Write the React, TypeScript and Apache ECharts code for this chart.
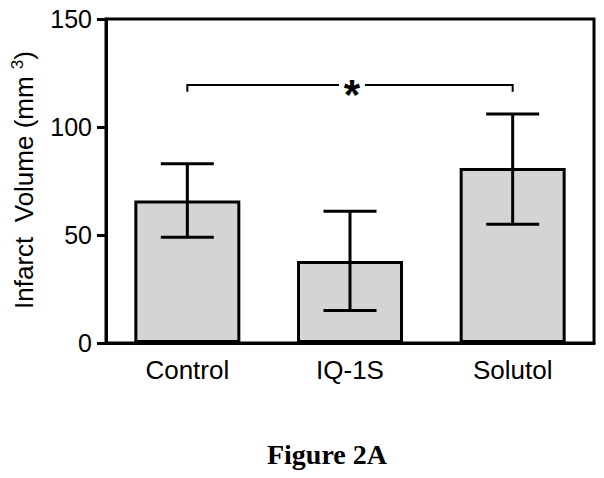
import React, { useEffect, useRef } from "react";
import * as echarts from "echarts";

const categories = ["Control", "IQ-1S", "Solutol"];
const meanValues = [66, 38, 81];
const errLow = [49, 15, 55];
const errHigh = [83, 61, 106];
const yMin = 0;
const yMax = 150;
const yStep = 50;
// significance bracket: from category index, to category index, level, foot
const bracketSpan = [0, 2];
const bracketLevel = 119.5;
const bracketFoot = 116.3;
const bracketMark = "*";

const FONT = "'Liberation Sans', Arial, sans-serif";

export default function App() {
  const ref = useRef<HTMLDivElement>(null);
  useEffect(() => {
    document.body.style.margin = "0";
    if (!ref.current) return;
    const chart = echarts.init(ref.current, null, { renderer: "svg" });
    const option: any = {
      animation: false,
      backgroundColor: "#fff",
      grid: {
        left: 106,
        right: 10,
        top: 19,
        bottom: 135,
        show: true,
        borderColor: "#000",
        borderWidth: 3,
      },
      xAxis: {
        type: "category",
        data: categories,
        axisLine: { lineStyle: { color: "#000", width: 3 } },
        axisTick: { show: false },
        axisLabel: { fontSize: 26, color: "#000", fontFamily: FONT, margin: 14 },
      },
      yAxis: {
        type: "value",
        min: yMin,
        max: yMax,
        interval: yStep,
        axisLine: { show: true, lineStyle: { color: "#000", width: 3 } },
        axisTick: { show: true, length: 9, lineStyle: { color: "#000", width: 3 } },
        axisLabel: { fontSize: 25, color: "#000", fontFamily: FONT, margin: 14 },
        splitLine: { show: false },
      },
      graphic: [
        {
          type: "text",
          x: 24,
          y: 180,
          rotation: Math.PI / 2,
          style: {
            text: "{a|Infarct  Volume (mm }{s|3}{a|)}",
            align: "center",
            verticalAlign: "middle",
            rich: {
              a: { fontSize: 26, fontFamily: FONT, fill: "#000", lineHeight: 30 },
              s: { fontSize: 17, fontFamily: FONT, fill: "#000", verticalAlign: "top" },
            },
          },
        },
        {
          type: "text",
          x: 327,
          y: 454,
          style: {
            text: "Figure 2A",
            font: "bold 28px 'Liberation Serif', 'Times New Roman', serif",
            fill: "#000",
            align: "center",
            verticalAlign: "middle",
          },
        },
      ],
      series: [
        {
          type: "bar",
          data: meanValues,
          barWidth: 106,
          itemStyle: { color: "#d4d4d4", borderColor: "#000", borderWidth: 3 },
          z: 2,
        },
        {
          type: "custom",
          z: 3,
          data: categories.map((_, i) => [i, errLow[i], errHigh[i]]),
          renderItem: (params: any, api: any) => {
            const lo = api.coord([api.value(0), api.value(1)]);
            const hi = api.coord([api.value(0), api.value(2)]);
            const hw = 26.5;
            const st = { stroke: "#000", lineWidth: 3, fill: "none" };
            return {
              type: "group",
              children: [
                { type: "line", shape: { x1: lo[0], y1: lo[1], x2: hi[0], y2: hi[1] }, style: st },
                { type: "line", shape: { x1: hi[0] - hw, y1: hi[1], x2: hi[0] + hw, y2: hi[1] }, style: st },
                { type: "line", shape: { x1: lo[0] - hw, y1: lo[1], x2: lo[0] + hw, y2: lo[1] }, style: st },
              ],
            };
          },
        },
        {
          type: "custom",
          z: 3,
          data: [[bracketSpan[0], bracketSpan[1], bracketLevel, bracketFoot]],
          renderItem: (params: any, api: any) => {
            const p1 = api.coord([api.value(0), api.value(2)]);
            const p2 = api.coord([api.value(1), api.value(2)]);
            const footY = api.coord([api.value(0), api.value(3)])[1];
            const mid = (p1[0] + p2[0]) / 2 + 2;
            const gap = 13;
            const st = { stroke: "#000", lineWidth: 2, fill: "none" };
            return {
              type: "group",
              children: [
                {
                  type: "polyline",
                  shape: { points: [[p1[0], footY], [p1[0], p1[1]], [mid - gap, p1[1]]] },
                  style: st,
                },
                {
                  type: "polyline",
                  shape: { points: [[mid + gap, p1[1]], [p2[0], p1[1]], [p2[0], footY]] },
                  style: st,
                },
                {
                  type: "text",
                  x: mid,
                  y: p1[1] + 10,
                  style: {
                    text: bracketMark,
                    font: "bold 42px " + FONT,
                    fill: "#000",
                    align: "center",
                    verticalAlign: "middle",
                  },
                },
              ],
            };
          },
        },
      ],
    };
    chart.setOption(option);
    return () => chart.dispose();
  }, []);
  return (
    <div
      ref={ref}
      style={{ position: "absolute", left: 0, top: 0, width: 604, height: 478 }}
    />
  );
}
